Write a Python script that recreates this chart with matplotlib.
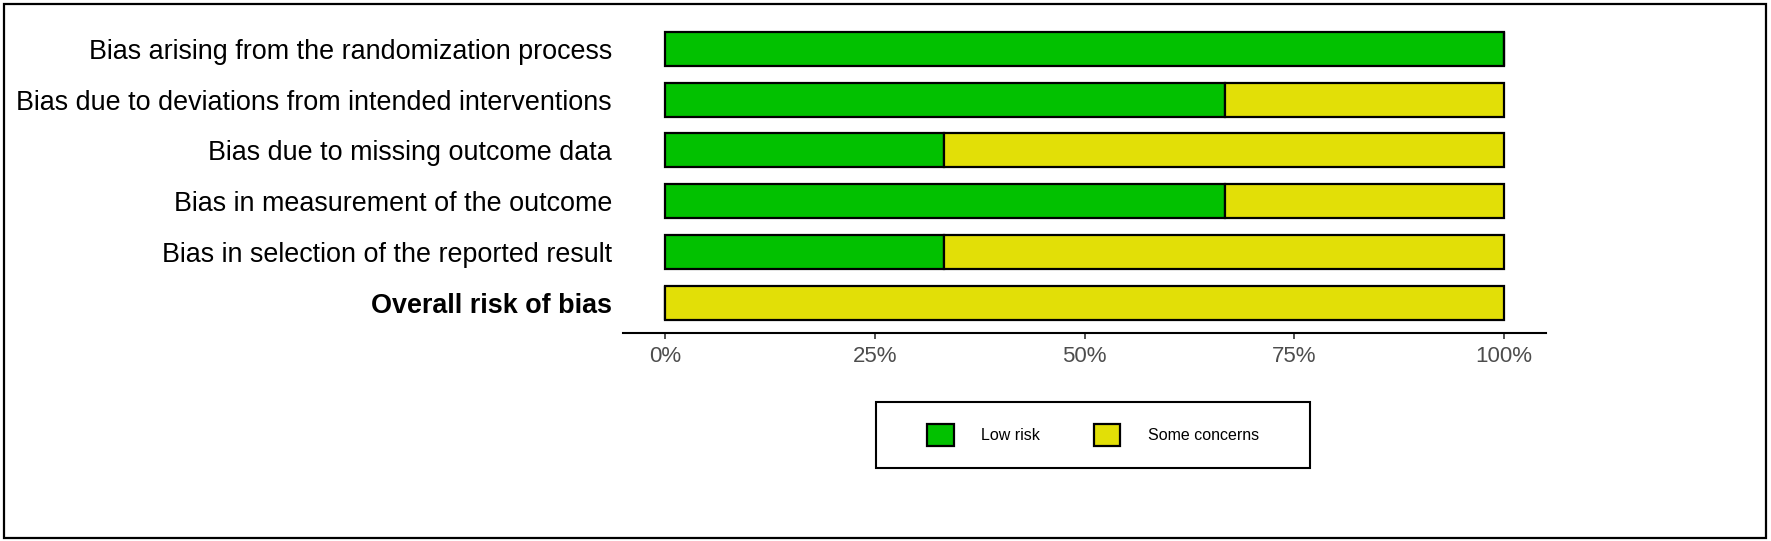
import numpy as np
import matplotlib
matplotlib.use("Agg")
import matplotlib.pyplot as plt
from matplotlib.patches import Rectangle, Patch

plt.rcParams['font.family'] = ['Liberation Sans', 'DejaVu Sans']

# Dominios y proporciones (%) de cada juicio
domains = [
    "Bias arising from the randomization process",
    "Bias due to deviations from intended interventions",
    "Bias due to missing outcome data",
    "Bias in measurement of the outcome",
    "Bias in selection of the reported result",
    "Overall risk of bias",
]
low_risk = [100, 66.7, 33.3, 66.7, 33.3, 0]
some_concerns = [0, 33.3, 66.7, 33.3, 66.7, 100]
ticks = [0, 25, 50, 75, 100]
tick_labels = ["0%", "25%", "50%", "75%", "100%"]

green = "#02C100"
yellow = "#E2DF07"

W, H = 1771, 541
fig = plt.figure(figsize=(W / 100, H / 100), dpi=100)
ax = fig.add_axes([623 / W, 1 - 333 / H, 923 / W, (333 - 18.6) / H])

y = np.arange(len(domains))
ax.barh(y, low_risk, height=0.67, color=green, edgecolor="black", linewidth=1.6)
ax.barh(y, some_concerns, left=low_risk, height=0.67, color=yellow,
        edgecolor="black", linewidth=1.6)

ax.set_xlim(-5, 105)
ax.set_ylim(len(domains) - 0.4, -0.6)
ax.set_xticks(ticks)
ax.set_xticklabels(tick_labels, fontsize=16, color="#4D4D4D")
ax.set_yticks(y)
ax.set_yticklabels(domains, fontsize=19.4, color="black")
ax.get_yticklabels()[-1].set_fontweight("bold")
ax.tick_params(axis="y", length=0, pad=8)
ax.tick_params(axis="x", length=4, width=1.2, color="#333333", pad=5)

for s in ["top", "right", "left"]:
    ax.spines[s].set_visible(False)
ax.spines["bottom"].set_linewidth(1.5)

# Leyenda con su marco
fig.patches.append(Rectangle((876 / W, 1 - 468 / H), 434 / W, 66 / H,
                             transform=fig.transFigure, fill=False,
                             edgecolor="black", linewidth=1.5))
handles = [Patch(facecolor=green, edgecolor="black", linewidth=1.6, label="Low risk"),
           Patch(facecolor=yellow, edgecolor="black", linewidth=1.6, label="Some concerns")]
fig.legend(handles=handles, loc="center", bbox_to_anchor=(1093 / W, 1 - 435 / H),
           ncol=2, frameon=False, fontsize=11.5, handlelength=1.65,
           handleheight=1.65, handletextpad=1.7, columnspacing=3.4)

# Marco exterior
fig.patches.append(Rectangle((4 / W, 3 / H), 1762 / W, 534 / H,
                             transform=fig.transFigure, fill=False,
                             edgecolor="black", linewidth=1.6))

fig.savefig("out.png", dpi=100)
